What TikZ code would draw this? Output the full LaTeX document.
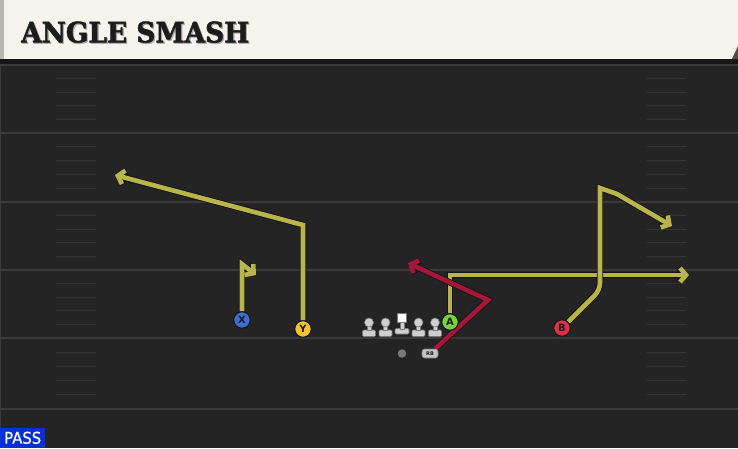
\documentclass[tikz,border=0pt]{standalone}
\usepackage{fontspec}
\usepackage{graphicx}
\usetikzlibrary{arrows.meta}
\setmainfont{DejaVu Sans}
\newfontfamily\titlefont{DejaVu Serif Condensed}[FakeBold=1.5]
\newfontfamily\passfont{DejaVu Sans}[FakeBold=0.6]
\definecolor{fieldbg}{HTML}{242424}
\definecolor{yardc}{HTML}{3A3A3A}
\definecolor{hashc}{HTML}{363636}
\definecolor{headerbg}{HTML}{F5F3EC}
\definecolor{headeredge}{HTML}{B8B8B0}
\definecolor{shadowc}{HTML}{161616}
\definecolor{titlec}{HTML}{1C1C1C}
\definecolor{passblue}{HTML}{0B2FD6}
\definecolor{routey}{HTML}{B9B54A}
\definecolor{router}{HTML}{A5163A}
\definecolor{xblue}{HTML}{3C6ED2}
\definecolor{yyellow}{HTML}{F5C32D}
\definecolor{agreen}{HTML}{78D23C}
\definecolor{bred}{HTML}{DC3246}
\definecolor{olc}{HTML}{141414}
\definecolor{lmc}{HTML}{CFCFCF}
\definecolor{lmedge}{HTML}{7A7A7A}
\definecolor{qbc}{HTML}{7A7A7A}
\definecolor{rbc}{HTML}{C4C4C4}
\pgfdeclarelayer{field}
\pgfdeclarelayer{routes}
\pgfsetlayers{field,routes,main}
\begin{document}
\begin{tikzpicture}[x=1pt,y=-1pt,
  player/.style={circle, draw=olc, line width=1pt, minimum size=16.5pt, inner sep=0pt,
    font=\bfseries\fontsize{10}{10}\selectfont, text=titlec},
  yroute/.style={draw=routey, line width=4.6pt, line join=miter,
    preaction={draw=olc, line width=6.4pt},
    -{Straight Barb[length=6pt,width=14pt]}},
  rroute/.style={yroute, draw=router},
  lmhead/.style={circle, fill=lmc, draw=lmedge, line width=0.6pt, minimum size=9pt, inner sep=0pt},
  lmbody/.style={fill=lmc, draw=lmedge, line width=0.6pt},
  yardline/.style={draw=yardc, line width=2pt},
  hashline/.style={draw=hashc, line width=1.3pt}]
\useasboundingbox (0,0) rectangle (738,448);
\begin{pgfonlayer}{field}
  \fill[fieldbg] (0,0) rectangle (738,448);
  \draw[yardc, line width=1pt] (0.5,59) -- (0.5,448);
  \foreach \y/\n in {65/133,133/202,202/270,270/338,338/409}{
    \foreach \k in {1,2,3,4}{
      \draw[hashline] (56,{\y+\k*(\n-\y)/5}) -- (96,{\y+\k*(\n-\y)/5});
      \draw[hashline] (647,{\y+\k*(\n-\y)/5}) -- (686,{\y+\k*(\n-\y)/5});
    }
  }
  \foreach \y in {65,133,202,270,338,409}
    \draw[yardline] (0,\y) -- (738,\y);
  % header
  \fill[shadowc] (0,59) rectangle (738,64);
  \fill[headerbg] (0,0) rectangle (738,59);
  \fill[headeredge] (0,0) rectangle (4,59);
  \fill[gray!60!black] (738,46) -- (738,59) -- (732,59) -- cycle;
\end{pgfonlayer}

% title
\node[anchor=south west, inner sep=0pt, text=gray!70] at (22.2,44.2)
  {\resizebox{228pt}{21pt}{\titlefont\bfseries ANGLE SMASH}};
\node[anchor=south west, inner sep=0pt, text=titlec] (title) at (21,43)
  {\resizebox{228pt}{21pt}{\titlefont\bfseries ANGLE SMASH}};

% pass label
\node[anchor=south west, fill=passblue, minimum width=45pt, minimum height=20pt,
  inner sep=0pt, text=white] (pass) at (0,448)
  {\resizebox{37pt}{12pt}{\passfont PASS}};

% linemen
\foreach \x/\nm in {369/lt,385.5/lg,418.5/rg,435/rt}{
  \fill[lmbody, rounded corners=1.2pt] (\x-6.5,330) rectangle (\x+6.5,336.5);
  \fill[lmbody] (\x-1.8,326) rectangle (\x+1.8,330.3);
  \node[lmhead] (\nm) at (\x,322.5) {};
}
\fill[lmbody, rounded corners=1.2pt] (395,328.5) rectangle (409,334);
\fill[lmbody] (400.2,321.5) rectangle (403.8,328.8);
\node[fill=white, draw=lmedge, line width=0.6pt, minimum size=8.5pt, inner sep=0pt] (center) at (401.8,318) {};

% backs
\node[circle, fill=qbc, minimum size=8.5pt, inner sep=0pt] (qb) at (402,353.5) {};
\node[rounded corners=2.5pt, fill=rbc, draw=lmedge, line width=0.6pt, minimum width=16pt,
  minimum height=9pt, inner sep=0pt, font=\bfseries\fontsize{5}{5}\selectfont, text=titlec] (RB) at (430,353.5) {RB};

% receivers
\node[player, fill=xblue] (X) at (242,320) {X};
\node[player, fill=yyellow] (Y) at (303,329) {Y};
\node[player, fill=agreen] (A) at (450,322) {A};
\node[player, fill=bred] (B) at (562,328) {B};

% route points
\coordinate (x1) at (242,264);
\coordinate (xend) at (256,275);
\coordinate (y1) at (303,225);
\coordinate (yend) at (115,175);
\coordinate (a1) at (450,275);
\coordinate (aend) at (689,275);
\coordinate (b1) at (600,290);
\coordinate (b2) at (600,188);
\coordinate (b3) at (617,194);
\coordinate (bend) at (672,226);
\coordinate (r1) at (488,300);
\coordinate (rend) at (408,263);

\begin{pgfonlayer}{routes}
  \draw[yroute] (X) -- (x1) -- (xend);
  \draw[yroute] (Y) -- (y1) -- (yend);
  \draw[yroute] (A) -- (a1) -- (aend);
  \draw[yroute] (B) [rounded corners=7pt] -- (b1) [sharp corners] -- (b2) -- (b3) -- (bend);
  \draw[rroute] (RB) -- (r1) -- (rend);
\end{pgfonlayer}
\end{tikzpicture}
\end{document}
